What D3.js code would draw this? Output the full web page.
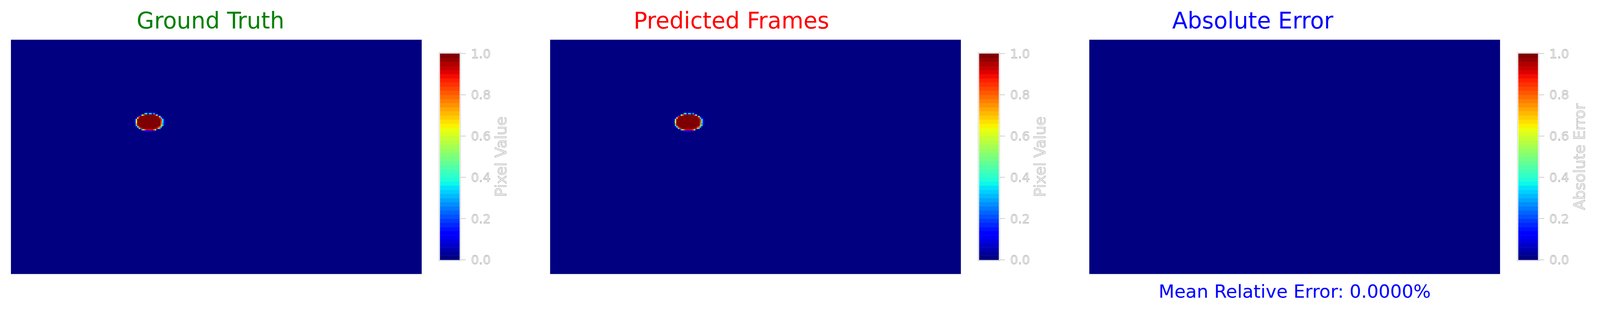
<!DOCTYPE html>
<html>

<head>
  <meta charset="utf-8">
  <title>frame comparison</title>
  <script type="text/javascript" src="https://d3js.org/d3.v7.min.js"></script>
  <style>
    html, body { margin: 0; padding: 0; background: #fff; overflow: hidden; }
    svg { display: block; width: 100vw; height: 100vh; }
    text { font-family: "DejaVu Sans", sans-serif; }
  </style>
</head>

<body>
  <svg viewBox="0 0 4386 856" preserveAspectRatio="xMidYMin meet"></svg>
  <script>
    // grid size of one frame
    var gridCols = 280;
    var gridRows = 160;

    // the droplet in the ground truth frame
    // rows start at blobRow0, columns start at blobCol0, all other cells are 0
    var blobRow0 = 50;
    var blobCol0 = 84;
    var gtBlob = [
      [0, 0, 0, 0, 0, 0, 0, .33, .38, .12, .33, .33, .15, .3, .1, 0, 0, 0, 0, 0, 0],
      [0, 0, 0, 0, .12, .52, .78, 1, 1, 1, 1, 1, 1, 1, .88, .5, .15, 0, 0, 0, 0],
      [0, 0, .12, .86, 1, 1, 1, 1, 1, 1, 1, 1, 1, 1, 1, 1, .92, .55, .12, 0, 0],
      [0, .12, .66, 1, 1, 1, 1, 1, 1, 1, 1, 1, 1, 1, 1, 1, 1, .9, .35, .12, 0],
      [.08, .55, 1, 1, 1, 1, 1, 1, 1, 1, 1, 1, 1, 1, 1, 1, 1, 1, .85, .36, .08],
      [.12, .58, 1, 1, 1, 1, 1, 1, 1, 1, 1, 1, 1, 1, 1, 1, 1, 1, .85, .38, .1],
      [.1, .65, 1, 1, 1, 1, 1, 1, 1, 1, 1, 1, 1, 1, 1, 1, 1, 1, .8, .35, .08],
      [.08, .75, 1, 1, 1, 1, 1, 1, 1, 1, 1, 1, 1, 1, 1, 1, 1, 1, .78, .3, .1],
      [0, .38, .9, 1, 1, 1, 1, 1, 1, 1, 1, 1, 1, 1, 1, 1, 1, 1, .7, .35, 0],
      [0, .1, .42, .9, 1, 1, 1, 1, 1, 1, 1, 1, 1, 1, 1, 1, .9, .78, .35, 0, 0],
      [0, 0, 0, .42, .85, .92, 1, 1, 1, 1, 1, 1, 1, 1, .92, .9, .7, .35, 0, 0, 0],
      [0, 0, 0, 0, .12, .35, .7, .82, .9, .9, .9, .9, .9, .8, .5, .12, 0, 0, 0, 0, 0],
      [0, 0, 0, 0, 0, 0, 0, .12, .12, .12, .12, .12, 0, .08, 0, 0, 0, 0, 0, 0, 0]
    ];
    // the prediction is the same as the ground truth
    var predBlob = gtBlob.map(function (r) { return r.slice(); });

    var colorbarTicks = [0, 0.2, 0.4, 0.6, 0.8, 1.0];
    var colorLevels = 50;

    var titles = ["Ground Truth", "Predicted Frames", "Absolute Error"];
    var titleColors = ["green", "red", "blue"];
    var cbarLabels = ["Pixel Value", "Pixel Value", "Absolute Error"];

    // absolute error, cell by cell
    var errBlob = gtBlob.map(function (r, i) {
      return r.map(function (v, j) { return Math.abs(v - predBlob[i][j]); });
    });
    var frames = [gtBlob, predBlob, errBlob];

    // mean relative error in percent
    var sumErr = d3.sum(errBlob, function (r) { return d3.sum(r); });
    var sumGt = d3.sum(gtBlob, function (r) { return d3.sum(r); });
    var mre = sumGt > 0 ? sumErr / sumGt * 100 : 0;

    // matplotlib jet
    var jr = d3.scaleLinear().domain([0, 0.35, 0.66, 0.89, 1]).range([0, 0, 1, 1, 0.5]).clamp(true);
    var jg = d3.scaleLinear().domain([0, 0.125, 0.375, 0.64, 0.91, 1]).range([0, 0, 1, 1, 0, 0]).clamp(true);
    var jb = d3.scaleLinear().domain([0, 0.11, 0.34, 0.65, 1]).range([0.5, 1, 1, 0, 0]).clamp(true);
    function jet(t) {
      return d3.rgb(jr(t) * 255, jg(t) * 255, jb(t) * 255).formatHex();
    }
    // discrete version with colorLevels bands
    var level = d3.scaleQuantize().domain([0, 1]).range(d3.range(colorLevels));
    function color(v) {
      return jet(level(v) / (colorLevels - 1));
    }

    var svg = d3.select("svg");
    var panelStep = 1478;
    var titleX = [577, 2005, 3434];

    frames.forEach(function (frame, k) {
      var g = svg.append("g")
        .attr("transform", "translate(" + (k * panelStep) + ",0)");

      var x = d3.scaleLinear().domain([0, gridCols]).range([30, 1156]);
      var y = d3.scaleLinear().domain([0, gridRows]).range([109, 752]);

      // zero cells
      g.append("rect")
        .attr("x", x(0))
        .attr("y", y(0))
        .attr("width", x(gridCols) - x(0))
        .attr("height", y(gridRows) - y(0))
        .attr("fill", color(0));

      // cells of the droplet
      var cells = [];
      frame.forEach(function (r, i) {
        r.forEach(function (v, j) {
          cells.push({ row: blobRow0 + i, col: blobCol0 + j, v: v });
        });
      });
      g.append("g")
        .selectAll("rect")
        .data(cells)
        .enter()
        .append("rect")
        .attr("x", function (d) { return x(d.col); })
        .attr("y", function (d) { return y(d.row); })
        .attr("width", x(1) - x(0) + 0.4)
        .attr("height", y(1) - y(0) + 0.4)
        .attr("fill", function (d) { return color(d.v); });

      // title
      svg.append("text")
        .attr("x", titleX[k])
        .attr("y", 78)
        .attr("text-anchor", "middle")
        .attr("font-size", 62)
        .attr("fill", titleColors[k])
        .text(titles[k]);

      // colorbar
      var cy = d3.scaleLinear().domain([0, 1]).range([713, 147]);
      var cb = g.append("g");
      cb.selectAll("rect")
        .data(d3.range(colorLevels))
        .enter()
        .append("rect")
        .attr("x", 1206)
        .attr("width", 54)
        .attr("y", function (i) { return cy((i + 1) / colorLevels); })
        .attr("height", function (i) { return cy(i / colorLevels) - cy((i + 1) / colorLevels) + 0.5; })
        .attr("fill", function (i) { return jet(i / (colorLevels - 1)); });

      cb.append("rect")
        .attr("x", 1203.5)
        .attr("y", cy(1) - 2.5)
        .attr("width", 59)
        .attr("height", cy(0) - cy(1) + 5)
        .attr("fill", "none")
        .attr("stroke", "#cccccc")
        .attr("stroke-width", 1.5);

      var ticks = cb.append("g")
        .selectAll("g")
        .data(colorbarTicks)
        .enter()
        .append("g")
        .attr("transform", function (d) { return "translate(0," + cy(d) + ")"; });
      ticks.append("line")
        .attr("x1", 1263)
        .attr("x2", 1277)
        .attr("stroke", "#cccccc")
        .attr("stroke-width", 2);
      ticks.append("text")
        .attr("x", 1291)
        .attr("dy", "0.36em")
        .attr("font-size", 34)
        .attr("fill", "#f2f2f2")
        .attr("stroke", "#a0a0a0")
        .attr("stroke-width", 0.85)
        .text(function (d) { return d3.format(".1f")(d); });

      cb.append("text")
        .attr("transform", "translate(1373," + cy(0.5) + ") rotate(-90)")
        .attr("text-anchor", "middle")
        .attr("dy", "0.36em")
        .attr("font-size", 41)
        .attr("fill", "#f2f2f2")
        .attr("stroke", "#a0a0a0")
        .attr("stroke-width", 0.85)
        .text(cbarLabels[k]);

      // mean relative error under the error frame
      if (k === 2) {
        g.append("text")
          .attr("x", (x(0) + x(gridCols)) / 2)
          .attr("y", 817)
          .attr("text-anchor", "middle")
          .attr("font-size", 50)
          .attr("fill", "blue")
          .text("Mean Relative Error: " + d3.format(".4f")(mre) + "%");
      }
    });
  </script>
</body>

</html>
